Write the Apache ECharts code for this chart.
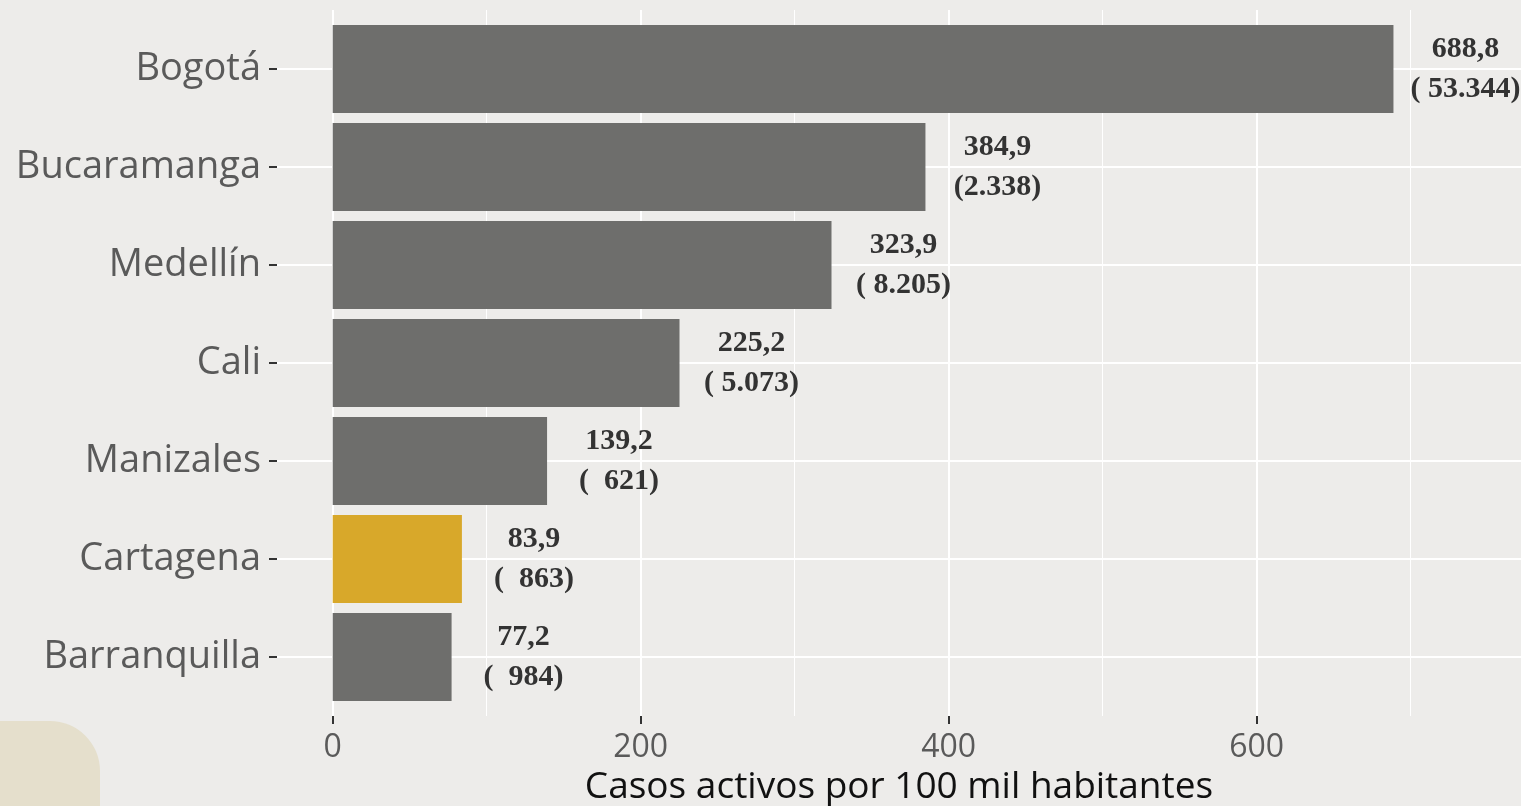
<!DOCTYPE html>
<html>
<head>
<meta charset="utf-8">
<script src="https://cdn.jsdelivr.net/npm/echarts@6/dist/echarts.min.js"></script>
<style>
html,body{margin:0;padding:0;background:#EDECEA;overflow:hidden;}
#c{width:1521px;height:806px;}
</style>
</head>
<body>
<div id="c"></div>
<script>
// ---- data ----
const cities = ['Bogotá', 'Bucaramanga', 'Medellín', 'Cali', 'Manizales', 'Cartagena', 'Barranquilla'];
const rates = [688.8, 384.9, 323.9, 225.2, 139.2, 83.9, 77.2];
const caseLabels = ['( 53.344)', '(2.338)', '( 8.205)', '( 5.073)', '(  621)', '(  863)', '(  984)'];
const highlightCity = 'Cartagena';
const xTickValues = [0, 200, 400, 600];
const xAxisTitle = 'Casos activos por 100 mil habitantes';

// ---- style ----
const BG = '#EDECEA';
const BAR = '#6E6E6C';
const GOLD = '#D8A82A';
const sans = '"Open Sans", Lato, sans-serif';
const serif = '"Liberation Serif", "DejaVu Serif", serif';

const chart = echarts.init(document.getElementById('c'), null, {renderer: 'canvas'});

const barData = rates.map((v, i) => ({
  value: v,
  itemStyle: {color: cities[i] === highlightCity ? GOLD : BAR},
  label: {formatter: v.toFixed(1).replace('.', ',') + '\n' + caseLabels[i]}
}));

const X_MAX = 800;
const PLOT_W = 1232; // pixels spanned by 0..X_MAX

const option = {
  backgroundColor: BG,
  animation: false,
  graphic: [{
    type: 'rect', left: 0, top: 721, z: -10,
    shape: {width: 100, height: 90, r: [0, 50, 0, 0]},
    style: {fill: '#E5DFCC'}
  }],
  grid: [
    // 0: bars
    {left: 332.7, width: PLOT_W, top: 20, height: 686, containLabel: false, outerBoundsMode: 'none'},
    // 1: category labels + horizontal gridlines + axis title
    {left: 277, right: 0, top: 69, height: 588, containLabel: false, outerBoundsMode: 'none'},
    // 2: vertical gridlines + x tick labels
    {left: 332.7, width: PLOT_W, top: 10, height: 706, containLabel: false, outerBoundsMode: 'none'}
  ],
  xAxis: [
    {gridIndex: 0, type: 'value', min: 0, max: X_MAX, show: false},
    {gridIndex: 1, type: 'value', min: 0, max: 1, show: true,
      axisLine: {show: false}, axisTick: {show: false}, axisLabel: {show: false},
      splitLine: {show: false},
      name: xAxisTitle, nameLocation: 'middle', nameGap: 112,
      nameTextStyle: {fontFamily: sans, fontSize: 37, color: '#111'}},
    {gridIndex: 2, type: 'value', min: 0, max: X_MAX, interval: 200,
      axisLine: {show: false},
      axisTick: {show: true, length: 8, lineStyle: {color: '#333', width: 2}},
      axisLabel: {show: true, fontFamily: sans, fontSize: 32, color: '#5a5a5a', margin: 16,
        showMaxLabel: false,
        formatter: v => xTickValues.includes(v) ? String(v) : ''},
      splitLine: {show: true, lineStyle: {color: '#FFFFFF', width: 2}},
      minorTick: {show: false, splitNumber: 2},
      minorSplitLine: {show: true, lineStyle: {color: '#FFFFFF', width: 1}}}
  ],
  yAxis: [
    {gridIndex: 0, type: 'category', data: cities, inverse: true, show: false},
    {gridIndex: 1, type: 'category', data: cities, inverse: true, boundaryGap: false,
      axisLine: {show: false},
      axisTick: {show: true, length: 8, lineStyle: {color: '#333', width: 2}},
      axisLabel: {fontFamily: sans, fontSize: 38, color: '#5a5a5a', margin: 16, padding: [6, 0, 0, 0]},
      splitLine: {show: true, lineStyle: {color: '#FFFFFF', width: 2}}},
    {gridIndex: 2, type: 'value', show: false}
  ],
  series: [{
    type: 'bar',
    xAxisIndex: 0, yAxisIndex: 0,
    data: barData,
    barWidth: 88,
    z: 5,
    label: {
      show: true, position: 'right', distance: 72, align: 'center',
      fontFamily: serif, fontWeight: 'bold', fontSize: 30, lineHeight: 40,
      color: '#333333'
    }
  }]
};
chart.setOption(option);
</script>
</body>
</html>
